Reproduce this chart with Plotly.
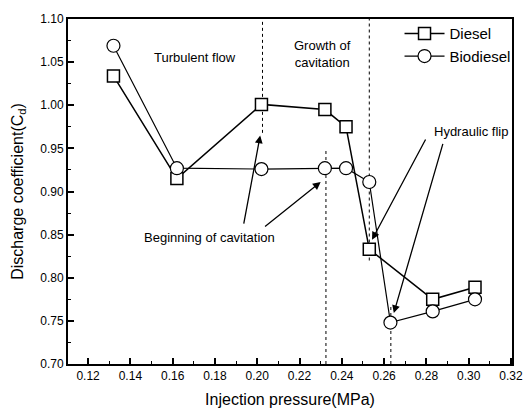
import plotly.graph_objects as go

# ---- data ----
diesel_x = [0.132, 0.162, 0.202, 0.232, 0.242, 0.253, 0.283, 0.303]
diesel_y = [1.034, 0.915, 1.001, 0.995, 0.975, 0.833, 0.775, 0.789]
bio_x = [0.132, 0.162, 0.202, 0.232, 0.242, 0.253, 0.263, 0.283, 0.303]
bio_y = [1.069, 0.927, 0.926, 0.927, 0.927, 0.911, 0.748, 0.761, 0.775]

x_ticks = [0.12, 0.14, 0.16, 0.18, 0.20, 0.22, 0.24, 0.26, 0.28, 0.30, 0.32]
y_ticks = [0.70, 0.75, 0.80, 0.85, 0.90, 0.95, 1.00, 1.05, 1.10]

FONT = "Arial, Liberation Sans, sans-serif"

fig = go.Figure()
fig.add_trace(go.Scatter(
    x=diesel_x, y=diesel_y, name="Diesel", mode="lines+markers",
    line=dict(color="black", width=1.5),
    marker=dict(symbol="square", size=12, color="white",
                line=dict(color="black", width=1.5)),
))
fig.add_trace(go.Scatter(
    x=bio_x, y=bio_y, name="Biodiesel", mode="lines+markers",
    line=dict(color="black", width=1.2),
    marker=dict(symbol="circle", size=13, color="white",
                line=dict(color="black", width=1.2)),
))

# dotted region lines (x, y0, y1)
dotted = [(0.2025, 0.968, 1.10), (0.2325, 0.70, 0.950),
          (0.2530, 0.820, 1.10), (0.2632, 0.70, 0.768)]
for x, y0, y1 in dotted:
    fig.add_shape(type="line", xref="x", yref="y", x0=x, x1=x, y0=y0, y1=y1,
                  line=dict(color="black", width=1, dash="dot"), layer="below")

# text labels
texts = [
    (0.1705, 1.055, "Turbulent flow"),
    (0.2309, 1.060, "Growth of<br>cavitation"),
    (0.3010, 0.969, "Hydraulic flip"),
    (0.1775, 0.847, "Beginning of cavitation"),
]
for x, y, t in texts:
    fig.add_annotation(x=x, y=y, text=t, showarrow=False,
                       font=dict(family=FONT, size=13, color="black"))

# arrows (head x, head y, tail x, tail y)
arrows = [
    (0.2014, 0.965, 0.1935, 0.861),
    (0.2300, 0.911, 0.2030, 0.858),
    (0.2543, 0.844, 0.2800, 0.962),
    (0.2646, 0.759, 0.2880, 0.957),
]
for hx, hy, tx, ty in arrows:
    fig.add_annotation(x=hx, y=hy, ax=tx, ay=ty, xref="x", yref="y",
                       axref="x", ayref="y", text="", showarrow=True,
                       arrowhead=2, arrowsize=1.2, arrowwidth=1.3,
                       arrowcolor="black")

fig.update_layout(
    width=527, height=413,
    margin=dict(l=68, r=14, t=19, b=49),
    paper_bgcolor="white", plot_bgcolor="white",
    font=dict(family=FONT, color="black"),
    showlegend=True,
    legend=dict(x=0.745, y=1.005, xanchor="left", yanchor="top",
                bgcolor="rgba(0,0,0,0)", font=dict(family=FONT, size=15),
                tracegroupgap=0, itemwidth=40),
    xaxis=dict(
        range=[0.1105, 0.3205], tickvals=x_ticks,
        ticktext=[f"{v:.2f}" for v in x_ticks],
        ticks="inside", ticklen=6, tickwidth=1.5, tickcolor="black",
        minor=dict(ticks="inside", ticklen=3, tickwidth=1.2, dtick=0.01,
                   tick0=0.11, tickcolor="black"),
        showline=True, linecolor="black", linewidth=2, mirror=True,
        showgrid=False, zeroline=False, automargin=False,
        tickfont=dict(size=12, family=FONT),
        title=dict(text="Injection pressure(MPa)",
                   font=dict(size=16, family=FONT), standoff=11),
    ),
    yaxis=dict(
        range=[0.70, 1.10], tickvals=y_ticks,
        ticktext=[f"{v:.2f}" for v in y_ticks],
        ticks="inside", ticklen=6, tickwidth=1.5, tickcolor="black",
        minor=dict(ticks="inside", ticklen=3, tickwidth=1.2, dtick=0.025,
                   tick0=0.70, tickcolor="black"),
        showline=True, linecolor="black", linewidth=2, mirror=True,
        showgrid=False, zeroline=False, automargin=False,
        tickfont=dict(size=12, family=FONT),
        title=dict(text="Discharge coefficient(C<sub>d</sub>)",
                   font=dict(size=16, family=FONT), standoff=13),
    ),
)

fig.write_html("out.html")
